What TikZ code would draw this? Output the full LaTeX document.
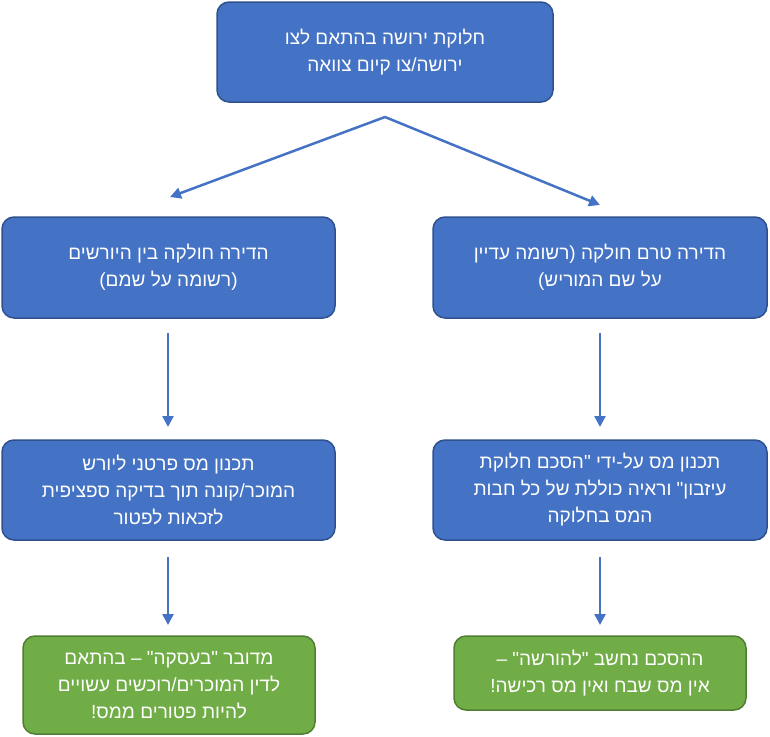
\documentclass[tikz,border=0pt]{standalone}
\usepackage{fontspec}
\newfontfamily\hebfont[Script=Hebrew]{Liberation Sans}
\TeXXeTstate=1
\newcommand{\rl}[1]{\beginR #1\endR}
\usetikzlibrary{arrows.meta}
\definecolor{bfill}{HTML}{4472C4}
\definecolor{bdraw}{HTML}{2F528F}
\definecolor{gfill}{HTML}{70AD47}
\definecolor{gdraw}{HTML}{507E32}
\tikzset{
  blk/.style={draw=bdraw, fill=bfill, line width=1.5pt, rounded corners=12pt, text=white, align=center,
    font=\hebfont\fontsize{19}{27}\selectfont},
  grn/.style={blk, draw=gdraw, fill=gfill},
  arr/.style={draw=bfill, line width=2.5pt, -{Triangle[length=11pt,width=11pt]}}
}
\begin{document}
\begin{tikzpicture}[x=1pt,y=-1pt]
\useasboundingbox (0,0) rectangle (770,736);
\node[blk, minimum width=336pt, minimum height=100pt] (top) at (385,52) {\rl{חלוקת ירושה בהתאם לצו}\\\rl{ירושה/צו קיום צוואה}};
\node[blk, minimum width=333pt, minimum height=101pt] (lm) at (168.5,267.5) {\rl{הדירה חולקה בין היורשים}\\\rl{(רשומה על שמם)}};
\node[blk, minimum width=334pt, minimum height=101pt] (rm) at (600,267.5) {\rl{הדירה טרם חולקה (רשומה עדיין}\\\rl{על שם המוריש)}};
\node[blk, minimum width=333pt, minimum height=100pt] (l3) at (168.5,490) {\rl{תכנון מס פרטני ליורש}\\\rl{המוכר/קונה תוך בדיקה ספציפית}\\\rl{לזכאות לפטור}};
\node[blk, minimum width=334pt, minimum height=100pt] (r3) at (600,490) {\rl{תכנון מס על-ידי "הסכם חלוקת}\\\rl{עיזבון" וראיה כוללת של כל חבות}\\\rl{המס בחלוקה}};
\node[grn, minimum width=292pt, minimum height=98pt] (lg) at (169,685) {\rl{מדובר "בעסקה" – בהתאם}\\\rl{לדין המוכרים/רוכשים עשויים}\\\rl{להיות פטורים ממס!}};
\node[grn, minimum width=292pt, minimum height=74pt] (rg) at (600,673) {\rl{ההסכם נחשב "להורשה" –}\\\rl{אין מס שבח ואין מס רכישה!}};
\coordinate (split) at (385,117);
\coordinate (ta) at (170,197);
\coordinate (tb) at (600,205);
\coordinate (lma) at (168,333); \coordinate (lmb) at (168,427);
\coordinate (rma) at (600,333); \coordinate (rmb) at (600,427);
\coordinate (l3a) at (168,557); \coordinate (l3b) at (168,625);
\coordinate (r3a) at (600,557); \coordinate (r3b) at (600,625);
\draw[arr] (split) -- (ta);
\draw[arr] (split) -- (tb);
\draw[arr] (lma) -- (lmb);
\draw[arr] (rma) -- (rmb);
\draw[arr] (l3a) -- (l3b);
\draw[arr] (r3a) -- (r3b);
\end{tikzpicture}
\end{document}
